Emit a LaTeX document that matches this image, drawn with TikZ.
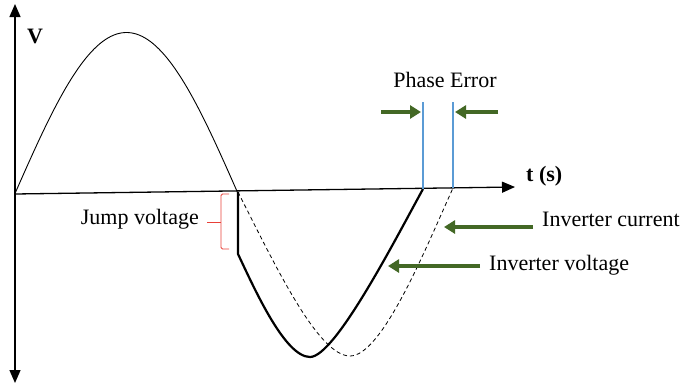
\documentclass[tikz,border=0pt]{standalone}
\usepackage{fontspec}
\setmainfont{Liberation Serif}
\usetikzlibrary{arrows.meta,positioning}
\definecolor{leafgreen}{RGB}{67,104,37}
\definecolor{errblue}{RGB}{91,155,213}
\definecolor{bracered}{RGB}{232,64,56}

\begin{document}
\begin{tikzpicture}[x=1pt, y=-1pt,
  every node/.style={font=\fontsize{22}{26}\selectfont, inner sep=0pt},
  axisline/.style={line width=1.3pt},
  axistip/.style={-{Triangle[length=13pt,width=11pt]}},
  greenarrow/.style={leafgreen, line width=3.5pt, -{Triangle[length=11pt,width=13pt]}},
  errline/.style={errblue, line width=1.4pt},
  wave/.style={line width=0.9pt},
  invvolt/.style={line width=2.2pt, line join=round},
  invcur/.style={line width=0.8pt, dash pattern=on 4pt off 3pt}]
\useasboundingbox (0,0) rectangle (681,386);

% axes
\draw[axisline, {Triangle[length=13pt,width=11pt]}-{Triangle[length=13pt,width=11pt]}] (15,383) -- (15,4);
\draw[axisline, axistip] (15,194) -- (515,187);
\node[anchor=base west, font=\fontsize{22}{26}\selectfont\bfseries] (vlab) at (27,43) {V};
\node[anchor=base west, font=\fontsize{22}{26}\selectfont\bfseries] (tlab) at (526,181) {t (s)};

% first half wave
\draw[wave] plot[domain=15:238, samples=80] (\x, {193.5-161*sin(0.80717*(\x-15))});

% inverter current (dashed)
\draw[invcur] (238,192) .. controls (275,265) and (318,356) .. (350,356)
  .. controls (382,356) and (425,250) .. (453,188);

% inverter voltage with the jump
\draw[invvolt] (238,192) -- (238,254)
  .. controls (255,290) and (285,357) .. (310,357)
  .. controls (335,357) and (395,240) .. (423,189);

% jump brace
\draw[bracered, line width=0.9pt, rounded corners=1.5pt] (229,194) -- (221,194) -- (221,249) -- (229,249);
\draw[bracered, line width=0.9pt] (207,222) -- (221,222);
\node[anchor=base east] (jump) at (199,224) {Jump voltage};

% phase error
\draw[errline] (423,102) -- (423,189);
\draw[errline] (453,102) -- (453,188);
\node[anchor=base] (phase) at (445,87) {Phase Error};
\coordinate (lefttip) at (421,112);
\coordinate (righttip) at (455,112);
\draw[greenarrow] (381,112) -- (lefttip);
\draw[greenarrow] (498,112) -- (righttip);

% labels of the two curves
\node[anchor=base west] (current) at (542,226) {Inverter current};
\node[anchor=base west] (voltage) at (489,270) {Inverter voltage};
\coordinate (curtip) at (444,227);
\coordinate (volttip) at (388,266);
\draw[greenarrow] ([xshift=-9pt,yshift=-1pt]current.base west) -- (curtip);
\draw[greenarrow] ([xshift=-9pt,yshift=4pt]voltage.base west) -- (volttip);
\end{tikzpicture}
\end{document}
